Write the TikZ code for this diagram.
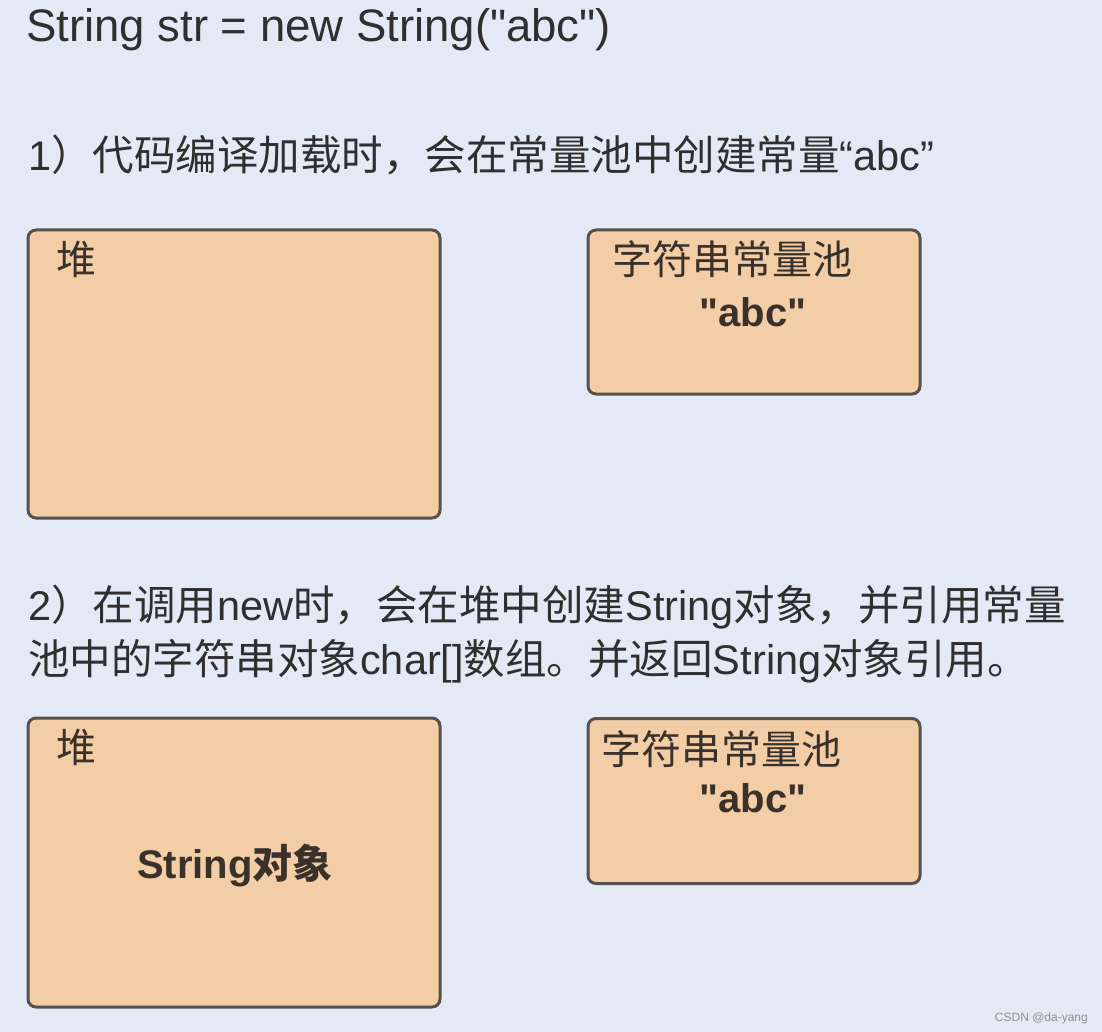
\documentclass[tikz,border=0pt]{standalone}
\usepackage{fontspec}
\setmainfont{Liberation Sans}
\newfontfamily\cjk{Noto Sans CJK SC}
\definecolor{bg}{HTML}{E4EAF5}
\definecolor{boxfill}{HTML}{F2CDA6}
\definecolor{boxline}{HTML}{57514D}
\definecolor{txtc}{HTML}{2F2F2F}
\definecolor{lblc}{HTML}{3A312B}
\definecolor{wm}{HTML}{8E8E8E}
\newcommand{\dq}{\textquotedbl}
\begin{document}
\begin{tikzpicture}[x=1pt,y=-1pt,
  box/.style={draw=boxline, line width=3pt, fill=boxfill, rounded corners=8pt, inner sep=0pt, rectangle},
  txt/.style={inner sep=0pt, anchor=base west, text=txtc, font=\fontsize{41.5}{50}\selectfont},
  lbl/.style={inner sep=0pt, anchor=base, text=lblc, font=\fontsize{40}{48}\selectfont\cjk},
  val/.style={inner sep=0pt, anchor=base, text=lblc, font=\fontsize{40}{48}\selectfont\bfseries}]
\fill[bg] (0,0) rectangle (1102,1032);
\useasboundingbox (0,0) rectangle (1102,1032);

% title and explanations
\node[txt, font=\fontsize{45.5}{54}\selectfont] (title) at (26,42) {String str = new String(\dq abc\dq)};
\node[txt] (step1) at (28,171) {1{\cjk ）代码编译加载时，会在常量池中创建常量}“abc”};
\node[txt] (step2a) at (28,620) {2{\cjk ）在调用}new{\cjk 时，会在堆中创建}String{\cjk 对象，并引用常量}};
\node[txt] (step2b) at (28,674) {{\cjk 池中的字符串对象}char[]{\cjk 数组。并返回}String{\cjk 对象引用。}};

% step 1 boxes
\node[box, minimum width=412pt, minimum height=288pt] (heap1) at (234,374) {};
\node[box, minimum width=332pt, minimum height=164pt] (pool1) at (754,312) {};
\node[lbl] (heap1lbl) at (76,274) {堆};
\node[lbl] (pool1lbl) at (732.5,274) {字符串常量池};
\node[val] (abc1) at (753,326) {\dq abc\dq};

% step 2 boxes
\node[box, minimum width=412pt, minimum height=289pt] (heap2) at (234,862.5) {};
\node[box, minimum width=332pt, minimum height=165pt] (pool2) at (754,801) {};
\node[lbl] (heap2lbl) at (76,762) {堆};
\node[lbl] (pool2lbl) at (721.5,764) {字符串常量池};
\node[val] (abc2) at (753,812) {\dq abc\dq};
\node[val] (strobj) at (235,878) {String{\cjk 对象}};

% watermark
\node[inner sep=0pt, anchor=base east, text=wm, font=\fontsize{12}{14}\selectfont] (wmark) at (1088,1021) {CSDN @da-yang};
\end{tikzpicture}
\end{document}
